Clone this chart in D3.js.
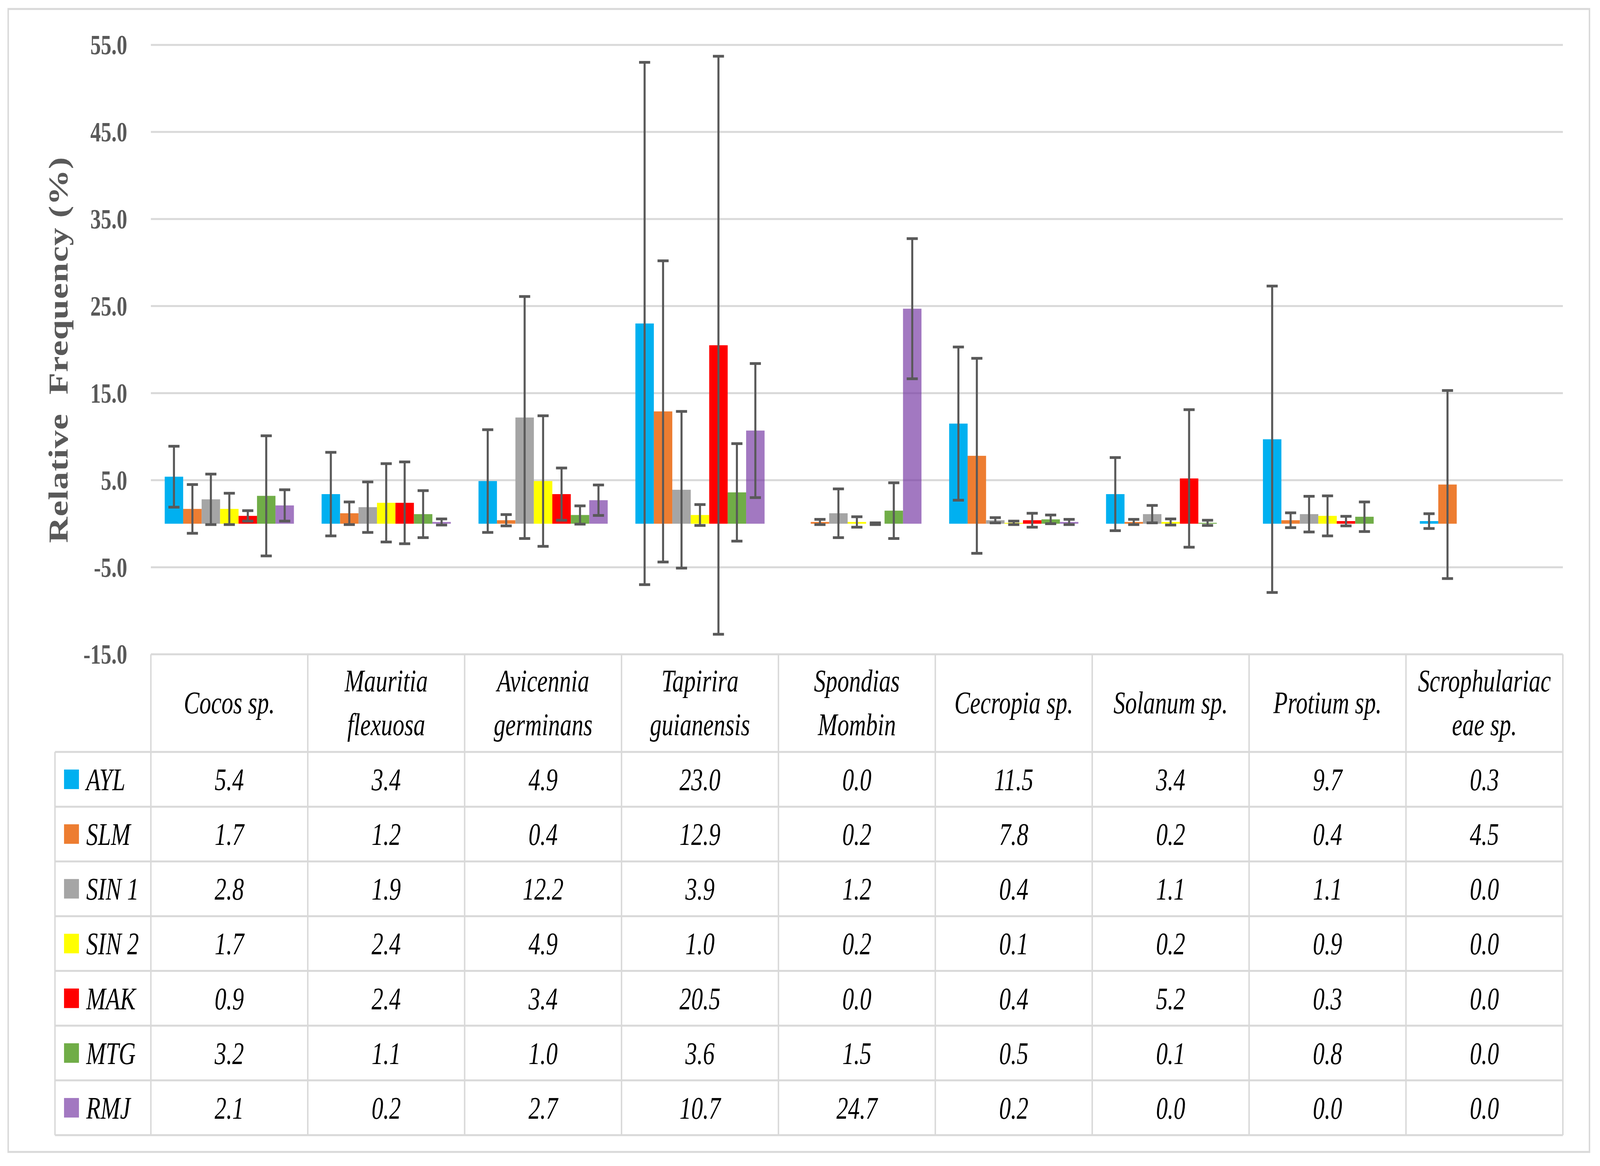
<!DOCTYPE html>
<html>
<head>
<meta charset="utf-8">
<script src="https://cdn.jsdelivr.net/npm/d3@7"></script>
<style>
  html, body { margin: 0; padding: 0; background: #fff; overflow: hidden; }
  svg { display: block; width: 100vw; height: 100vh; }
  text { font-family: "Liberation Serif", "Times New Roman", serif; }
</style>
</head>
<body>
<script>
// chart data
const categories = ["Cocos sp.", "Mauritia flexuosa", "Avicennia germinans", "Tapirira guianensis",
  "Spondias Mombin", "Cecropia sp.", "Solanum sp.", "Protium sp.", "Scrophulariaceae sp."];
const headerLines = [["Cocos sp."], ["Mauritia", "flexuosa"], ["Avicennia", "germinans"],
  ["Tapirira", "guianensis"], ["Spondias", "Mombin"], ["Cecropia sp."], ["Solanum sp."],
  ["Protium sp."], ["Scrophulariac", "eae sp."]];
const series = ["AYL", "SLM", "SIN 1", "SIN 2", "MAK", "MTG", "RMJ"];
const colors = ["#00b0f0", "#ed7d31", "#a5a5a5", "#ffff00", "#ff0000", "#70ad47", "#7030a0"];

const AYL  = [5.4, 3.4, 4.9, 23.0, 0.0, 11.5, 3.4, 9.7, 0.3];
const SLM  = [1.7, 1.2, 0.4, 12.9, 0.2, 7.8, 0.2, 0.4, 4.5];
const SIN1 = [2.8, 1.9, 12.2, 3.9, 1.2, 0.4, 1.1, 1.1, 0.0];
const SIN2 = [1.7, 2.4, 4.9, 1.0, 0.2, 0.1, 0.2, 0.9, 0.0];
const MAK  = [0.9, 2.4, 3.4, 20.5, 0.0, 0.4, 5.2, 0.3, 0.0];
const MTG  = [3.2, 1.1, 1.0, 3.6, 1.5, 0.5, 0.1, 0.8, 0.0];
const RMJ  = [2.1, 0.2, 2.7, 10.7, 24.7, 0.2, 0.0, 0.0, 0.0];

// standard deviations (error bars)
const sdAYL  = [3.5, 4.8, 5.9, 30.0, 0, 8.8, 4.2, 17.6, 0.85];
const sdSLM  = [2.8, 1.3, 0.65, 17.3, 0.3, 11.2, 0.3, 0.85, 10.8];
const sdSIN1 = [2.9, 2.9, 13.9, 9.0, 2.8, 0.3, 1.0, 2.05, 0];
const sdSIN2 = [1.8, 4.5, 7.5, 1.2, 0.6, 0.2, 0.35, 2.3, 0];
const sdMAK  = [0.6, 4.7, 3.0, 33.2, 0.1, 0.8, 7.9, 0.55, 0];
const sdMTG  = [6.9, 2.7, 1.05, 5.6, 3.2, 0.5, 0.3, 1.7, 0];
const sdRMJ  = [1.8, 0.35, 1.75, 7.7, 8.05, 0.3, 0, 0, 0];

const yTicks = [55, 45, 35, 25, 15, 5, -5, -15];

const values = [AYL, SLM, SIN1, SIN2, MAK, MTG, RMJ];
const sds = [sdAYL, sdSLM, sdSIN1, sdSIN2, sdMAK, sdMTG, sdRMJ];

const W = 5472, H = 2985;
const grid = "#d9d9d9", axisGray = "#595959";

// drawn in a 5472x2985 frame, stretched to whatever the window is
const svg = d3.select("body").append("svg")
  .attr("viewBox", `0 0 ${W} ${H}`)
  .attr("preserveAspectRatio", "none");

svg.append("rect").attr("width", W).attr("height", H).attr("fill", "#fff");
// outer chart border
svg.append("rect")
  .attr("x", 28).attr("y", 23).attr("width", 5408).attr("height", 2926)
  .attr("fill", "none").attr("stroke", grid).attr("stroke-width", 5);

const x = d3.scaleBand().domain(categories).range([516, 5345]);
const xs = d3.scaleBand().domain(series).range([0, x.bandwidth()]).paddingOuter(0.75);
const y = d3.scaleLinear().domain([-15, 55]).range([1675, 115]);

// gridlines
svg.append("g").selectAll("line").data(yTicks).join("line")
  .attr("x1", 516).attr("x2", 5345)
  .attr("y1", d => y(d)).attr("y2", d => y(d))
  .attr("stroke", grid).attr("stroke-width", 5);

// y tick labels
svg.append("g").selectAll("text").data(yTicks).join("text")
  .attr("x", 435).attr("y", d => y(d)).attr("dy", "0.34em")
  .attr("text-anchor", "end").attr("font-size", 72).attr("font-weight", "bold")
  .attr("fill", axisGray).text(d => d.toFixed(1));

// y axis title
svg.append("text")
  .attr("transform", "translate(231,896) rotate(-90)")
  .attr("text-anchor", "middle").attr("font-size", 92).attr("font-weight", "bold")
  .attr("fill", axisGray).attr("textLength", 988).attr("lengthAdjust", "spacing")
  .style("white-space", "pre")
  .text("Relative  Frequency (%)");

// bars
const flat = [];
series.forEach((s, si) => categories.forEach((c, ci) => {
  flat.push({ s, si, c, v: values[si][ci], sd: sds[si][ci] });
}));

svg.append("g").selectAll("rect").data(flat).join("rect")
  .attr("x", d => x(d.c) + xs(d.s))
  .attr("width", xs.bandwidth())
  .attr("y", d => y(Math.max(0, d.v)))
  .attr("height", d => Math.abs(y(d.v) - y(0)))
  .attr("fill", d => colors[d.si])
  .attr("fill-opacity", d => d.s === "RMJ" ? 0.65 : 1);

// error bars
const eb = svg.append("g").attr("stroke", axisGray).attr("stroke-width", 7)
  .selectAll("g").data(flat.filter(d => d.sd > 0)).join("g")
  .attr("transform", d => `translate(${x(d.c) + xs(d.s) + xs.bandwidth() / 2},0)`);
eb.append("line").attr("y1", d => y(d.v + d.sd)).attr("y2", d => y(d.v - d.sd));
eb.append("line").attr("x1", -19).attr("x2", 19)
  .attr("y1", d => y(d.v + d.sd)).attr("y2", d => y(d.v + d.sd));
eb.append("line").attr("x1", -19).attr("x2", 19)
  .attr("y1", d => y(d.v - d.sd)).attr("y2", d => y(d.v - d.sd));

// data table
const tTop = 1925, tBottom = 2906, legLeft = 188;
const rowH = (tBottom - tTop) / series.length;
const tbl = svg.append("g");
const lineStyle = sel => sel.attr("stroke", grid).attr("stroke-width", 5);

// horizontal row lines
tbl.selectAll(".hr").data(d3.range(series.length + 1)).join("line")
  .attr("x1", legLeft).attr("x2", 5345)
  .attr("y1", i => tTop + i * rowH).attr("y2", i => tTop + i * rowH)
  .call(lineStyle);
// vertical column lines
const colEdges = categories.map(c => x(c)).concat([x.range()[1]]);
tbl.selectAll(".vr").data(colEdges).join("line")
  .attr("x1", d => d).attr("x2", d => d)
  .attr("y1", y(-15)).attr("y2", tBottom)
  .call(lineStyle);
tbl.append("line").attr("x1", legLeft).attr("x2", legLeft)
  .attr("y1", tTop).attr("y2", tBottom).call(lineStyle);

// header labels
const hdr = tbl.selectAll(".hdr").data(categories).join("text")
  .attr("text-anchor", "middle").attr("font-size", 80).attr("font-style", "italic")
  .attr("fill", "#000");
hdr.each(function (c, ci) {
  const lines = headerLines[ci];
  const cx = x(c) + x.bandwidth() / 2;
  const mid = (y(-15) + tTop) / 2;
  const start = mid - (lines.length - 1) * 56;
  d3.select(this).selectAll("tspan").data(lines).join("tspan")
    .attr("x", cx).attr("y", (l, li) => start + li * 112).attr("dy", "0.33em")
    .text(l => l);
});

// legend column
series.forEach((s, si) => {
  const cy = tTop + (si + 0.5) * rowH;
  tbl.append("rect").attr("x", 219).attr("y", cy - 25).attr("width", 51).attr("height", 50)
    .attr("fill", colors[si]).attr("fill-opacity", s === "RMJ" ? 0.65 : 1);
  tbl.append("text").attr("x", 295).attr("y", cy).attr("dy", "0.35em")
    .attr("font-size", 80).attr("font-style", "italic").attr("fill", "#000").text(s);
});

// cell values
tbl.selectAll(".cell").data(flat).join("text")
  .attr("x", d => x(d.c) + x.bandwidth() / 2)
  .attr("y", d => tTop + (d.si + 0.5) * rowH).attr("dy", "0.35em")
  .attr("text-anchor", "middle").attr("font-size", 80).attr("font-style", "italic")
  .attr("fill", "#000").text(d => d3.format(".1f")(d.v));
</script>
</body>
</html>
